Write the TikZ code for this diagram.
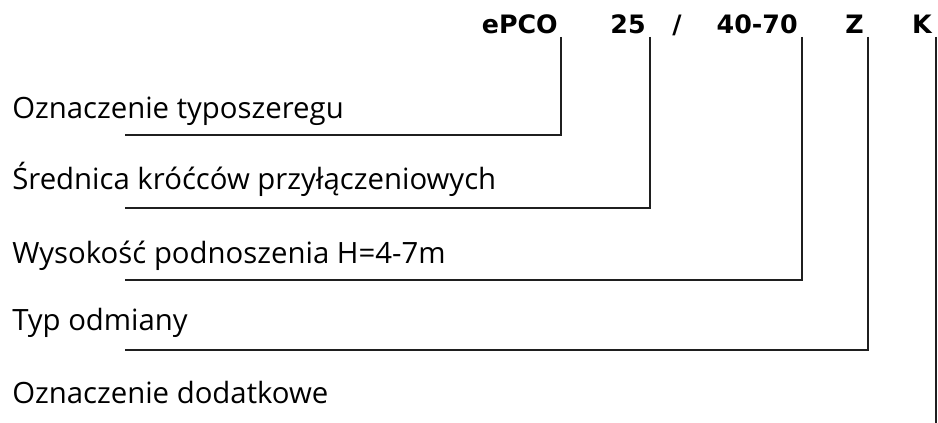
\documentclass[tikz,border=0pt]{standalone}
\usepackage{fontspec}
\setmainfont{Open Sans}
\newfontfamily\codefont{DejaVu Sans}
\begin{document}
\begin{tikzpicture}[x=0.75pt,y=-0.75pt,
  lbl/.style={anchor=base west,inner sep=0pt,font=\fontsize{22pt}{26pt}\selectfont},
  code/.style={anchor=base east,inner sep=0pt,font=\codefont\bfseries\fontsize{19pt}{22pt}\selectfont},
  lead/.style={line width=2.1pt,black!88}]
\useasboundingbox (0,0) rectangle (938,423);

% type key
\node[code] (series) at (558,34) {ePCO};
\node[code] (dn) at (646,34) {25};
\node[code,anchor=base] (slash) at (677,34) {/};
\node[code] (head) at (798,34) {40-70};
\node[code] (variant) at (864,34) {Z};
\node[code] (extra) at (932,34) {K};

% descriptions
\node[lbl] (lseries) at (12,119) {Oznaczenie typoszeregu};
\node[lbl] (ldn) at (12,190) {Średnica króćców przyłączeniowych};
\node[lbl] (lhead) at (12,264) {Wysokość podnoszenia H=4-7m};
\node[lbl] (lvariant) at (12,331) {Typ odmiany};
\node[lbl] (lextra) at (12,404) {Oznaczenie dodatkowe};

\coordinate (e1) at (125,135);
\coordinate (e2) at (125,208);
\coordinate (e3) at (125,280);
\coordinate (e4) at (125,350);
\coordinate (e5) at (125,423);

\draw[lead] ([shift={(3,3)}]series.base east) |- (e1);
\draw[lead] ([shift={(4,3)}]dn.base east) |- (e2);
\draw[lead] ([shift={(4,3)}]head.base east) |- (e3);
\draw[lead] ([shift={(4,3)}]variant.base east) |- (e4);
\draw[lead] ([shift={(4,3)}]extra.base east) -- ([xshift=3pt]extra.east |- e5);
\end{tikzpicture}
\end{document}
